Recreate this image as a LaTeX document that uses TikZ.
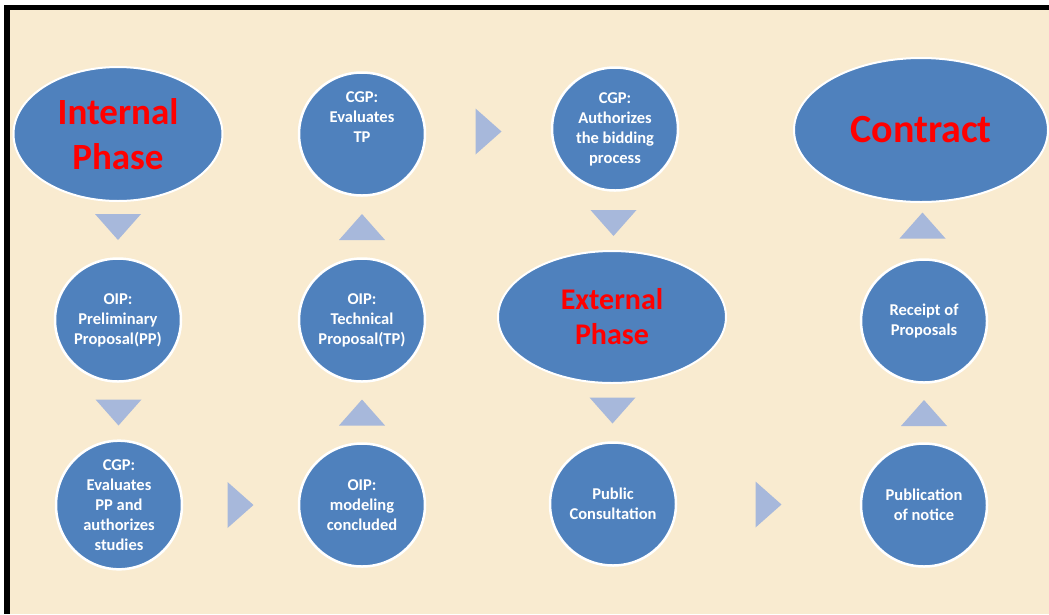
\documentclass[tikz,border=0pt]{standalone}
\usepackage{fontspec}
\setmainfont{Carlito}
\usetikzlibrary{shapes.geometric,calc}
\definecolor{bgbeige}{HTML}{F9EBD0}
\definecolor{stepblue}{HTML}{4F81BD}
\definecolor{tricol}{HTML}{A7B8DB}

\begin{document}
\begin{tikzpicture}
[
    x = 1pt, y = -1pt,
    phase/.style = {ellipse, fill = stepblue, draw = white, line width = 2pt, inner sep = 0pt, text = red, align = center},
    stepnode/.style = {ellipse, fill = stepblue, draw = white, line width = 2.5pt, minimum width = 126pt, minimum height = 123pt, inner sep = 0pt, text = white, align = center, font = \bfseries\fontsize{16.5}{20}\selectfont},
    steptext/.style = {text = white, align = center, inner sep = 0pt, font = \bfseries\fontsize{16.5}{20}\selectfont},
    tri/.style = {fill = tricol}
]
\useasboundingbox (0,0) rectangle (1049,614);
\fill[white] (0,0) rectangle (1049,614);
\fill[bgbeige] (10,10) rectangle (1049,614);
\fill[black] (4,5) rectangle (1049,10);
\fill[black] (4,5) rectangle (10,614);

\node[phase, minimum width = 209pt, minimum height = 134pt, font = \bfseries\fontsize{37}{45}\selectfont] (ip) at (118,134) {Internal\\Phase};
\node[stepnode] (pp) at (118,320) {OIP:\\Preliminary\\Proposal(PP)};
\node[stepnode] (evpp) at (119,505) {CGP:\\Evaluates\\PP and\\authorizes\\studies};
\node[stepnode] (mod) at (362,505) {OIP:\\modeling\\concluded};
\node[stepnode] (tp) at (362,320) {OIP:\\Technical\\Proposal(TP)};
\node[stepnode] (evtp) at (362,134) {};
\node[steptext] (evtptxt) at (362,117) {CGP:\\Evaluates\\TP};
\node[stepnode] (auth) at (615,129) {CGP:\\Authorizes\\the bidding\\process};
\node[phase, minimum width = 228pt, minimum height = 132pt, font = \bfseries\fontsize{30}{35}\selectfont] (ext) at (612,317) {External\\Phase};
\node[stepnode] (pub) at (613,504) {Public\\Consultation};
\node[stepnode] (publ) at (924,505) {Publication\\of notice};
\node[stepnode] (rec) at (924,321) {Receipt of\\Proposals};
\node[phase, minimum width = 254pt, minimum height = 144pt, font = \bfseries\fontsize{40}{48}\selectfont] (con) at (921,130) {Contract};

\foreach \a/\b/\r in {ip/pp/0, pp/evpp/0, evpp/mod/90, mod/tp/180, tp/evtp/180, evtp/auth/90, auth/ext/0, ext/pub/0, pub/publ/90, publ/rec/180, rec/con/180}
    \fill[tri, shift = {($(\a)!0.5!(\b)$)}, rotate = \r] (-23,-13) -- (23,-13) -- (0,13) -- cycle;
\end{tikzpicture}
\end{document}
